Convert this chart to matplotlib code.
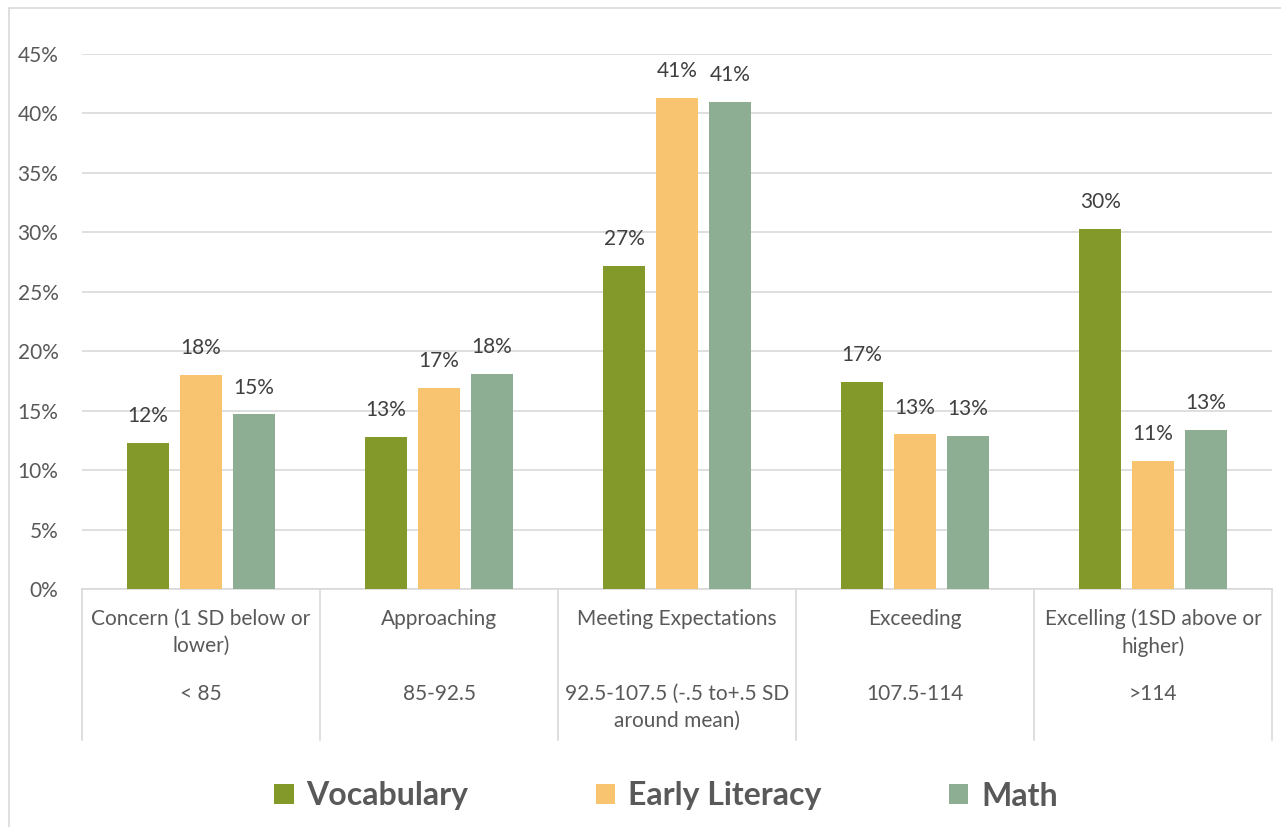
import numpy as np
import matplotlib
matplotlib.use("Agg")
import matplotlib.pyplot as plt
from matplotlib.patches import Rectangle
from matplotlib.ticker import PercentFormatter

# ── data ────────────────────────────────────────────────────────────────────
categories = ["Concern (1 SD below or\nlower)", "Approaching", "Meeting Expectations",
              "Exceeding", "Excelling (1SD above or\nhigher)"]
ranges = ["< 85", "85-92.5", "92.5-107.5 (-.5 to+.5 SD\naround mean)", "107.5-114", ">114"]
series = ["Vocabulary", "Early Literacy", "Math"]
vocabulary = [0.123, 0.128, 0.272, 0.174, 0.303]
early_literacy = [0.180, 0.169, 0.413, 0.130, 0.108]
math_scores = [0.147, 0.181, 0.410, 0.129, 0.134]
colors = ["#839a2a", "#f9c470", "#8eae93"]

plt.rcParams["font.family"] = ["Lato", "DejaVu Sans"]
TXT = "#595959"
FS = 15

# ── figure ──────────────────────────────────────────────────────────────────
W, H = 1281, 827
fig = plt.figure(figsize=(W / 100, H / 100), dpi=100)
ax = fig.add_axes([82 / W, 1 - 589 / H, (1272 - 82) / W, (589 - 54) / H])

x = np.arange(len(categories))
width = 0.176
offset = 0.222
bars = []
for i, (vals, name) in enumerate(zip([vocabulary, early_literacy, math_scores], series)):
    b = ax.bar(x + (i - 1) * offset, vals, width, color=colors[i], label=name, zorder=3)
    bars.append(b)
    for xi, v in zip(x + (i - 1) * offset, vals):
        ax.annotate(f"{v * 100:.0f}%", (xi, v), xytext=(0, 12), textcoords="offset points",
                    ha="center", va="bottom", fontsize=FS, color="#404040")

ax.set_xlim(-0.5, len(categories) - 0.5)
ax.set_ylim(0, 0.45)
ax.set_yticks(np.arange(0, 0.451, 0.05))
ax.yaxis.set_major_formatter(PercentFormatter(1.0, decimals=0))
ax.tick_params(axis="y", length=0, labelsize=FS, labelcolor=TXT, pad=17)
ax.grid(axis="y", color="#d9d9d9", lw=1.2, zorder=0)
for s in ["top", "right", "left"]:
    ax.spines[s].set_visible(False)
ax.spines["bottom"].set_color("#d9d9d9")
ax.spines["bottom"].set_linewidth(1.2)
ax.set_xticks([])

# two-level category labels
tr = ax.get_xaxis_transform()
for xi, cat, rng in zip(x, categories, ranges):
    ax.text(xi, -0.037, cat, transform=tr, ha="center", va="top", fontsize=FS,
            color=TXT, linespacing=1.42)
    ax.text(xi, -0.177, rng, transform=tr, ha="center", va="top", fontsize=FS,
            color=TXT, linespacing=1.42)
for b in np.arange(-0.5, len(categories), 1.0):
    ax.plot([b, b], [0, -0.283], transform=tr, color="#d9d9d9", lw=1.2, clip_on=False)

# legend
leg = fig.legend(handles=bars, labels=series, loc="center", bbox_to_anchor=(0.52, 1 - 796 / H),
                 ncol=3, frameon=False, prop={"weight": "bold", "size": 23},
                 handlelength=0.6, handleheight=0.6, handletextpad=0.4, columnspacing=4.0)
for t in leg.get_texts():
    t.set_color(TXT)

# outer chart border
fig.add_artist(Rectangle((9 / W, -0.01), 1.0, 1 - 8 / H + 0.01, transform=fig.transFigure,
                         fill=False, ec="#d9d9d9", lw=1.2))

fig.savefig("out.png", dpi=100)
